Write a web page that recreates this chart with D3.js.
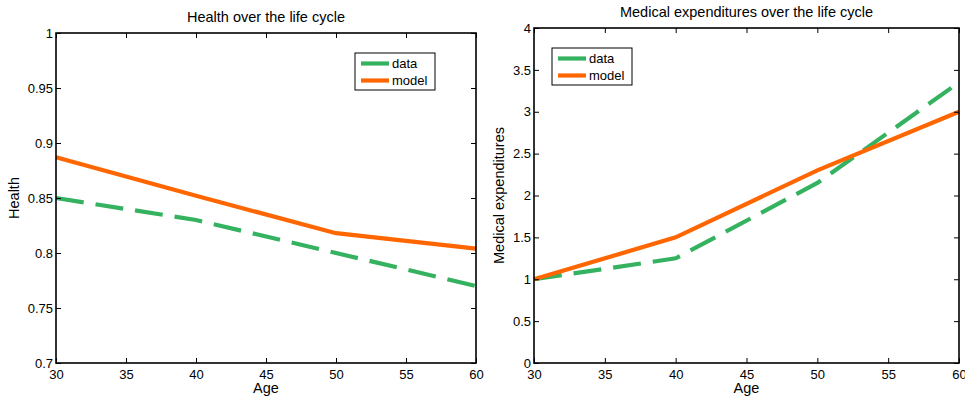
<!DOCTYPE html>
<html>
<head>
<meta charset="utf-8">
<script src="https://cdn.jsdelivr.net/npm/d3@7"></script>
<style>
  body { margin: 0; background: #fff; }
  svg { display: block; font-family: "Liberation Sans", Arial, sans-serif; }
</style>
</head>
<body>
<svg id="chart" width="965" height="400"></svg>
<script>
// ages on the x axis (both panels)
const ages = [30, 40, 50, 60];
const ageTicks = [30, 35, 40, 45, 50, 55, 60];

// Health panel
const healthData = [0.85, 0.83, 0.80, 0.77];
const healthModel = [0.887, 0.852, 0.818, 0.804];
const healthTicks = [0.7, 0.75, 0.8, 0.85, 0.9, 0.95, 1];

// Medical expenditures panel
const medData = [1.0, 1.25, 2.15, 3.35];
const medModel = [1.0, 1.5, 2.3, 3.0];
const medTicks = [0, 0.5, 1, 1.5, 2, 2.5, 3, 3.5, 4];

const seriesNames = ['data', 'model'];
const green = '#34b25f';
const orange = '#ff6600';

const svg = d3.select('#chart');

function drawPanel(p) {
    const x = d3.scaleLinear().domain([30, 60]).range([p.left, p.right]);
    const y = d3.scaleLinear().domain(p.yDomain).range([p.bottom, p.top]);
    const fmt = d => String(+d.toFixed(2));

    const g = svg.append('g');

    // lines first, box and ticks on top
    const line = d3.line().x((d, i) => x(ages[i])).y(d => y(d));

    g.append('path')
        .datum(p.data)
        .attr('fill', 'none')
        .attr('stroke', green)
        .attr('stroke-width', 4.2)
        .attr('stroke-dasharray', '28,12')
        .attr('d', line);

    g.append('path')
        .datum(p.model)
        .attr('fill', 'none')
        .attr('stroke', orange)
        .attr('stroke-width', 4.2)
        .attr('d', line);

    // axes with inward ticks on all four sides
    const bottom = g.append('g')
        .attr('transform', `translate(0,${p.bottom})`)
        .call(d3.axisBottom(x).tickValues(ageTicks).tickSizeInner(-5).tickSizeOuter(0).tickPadding(7));
    const top = g.append('g')
        .attr('transform', `translate(0,${p.top})`)
        .call(d3.axisTop(x).tickValues(ageTicks).tickSizeInner(-5).tickSizeOuter(0).tickFormat(''));
    const left = g.append('g')
        .attr('transform', `translate(${p.left},0)`)
        .call(d3.axisLeft(y).tickValues(p.ticks).tickFormat(fmt).tickSizeInner(-5).tickSizeOuter(0).tickPadding(3));
    const right = g.append('g')
        .attr('transform', `translate(${p.right},0)`)
        .call(d3.axisRight(y).tickValues(p.ticks).tickSizeInner(-5).tickSizeOuter(0).tickFormat(''));

    [bottom, top, left, right].forEach(a => {
        a.select('.domain').remove();
        a.selectAll('line').attr('stroke', '#000').attr('stroke-width', 1);
        a.selectAll('text')
            .attr('fill', '#000')
            .style('font-size', '13px')
            .style('font-family', '"Liberation Sans", Arial, sans-serif');
    });
    left.selectAll('text').attr('x', -3);

    g.append('rect')
        .attr('x', p.left)
        .attr('y', p.top)
        .attr('width', p.right - p.left)
        .attr('height', p.bottom - p.top)
        .attr('fill', 'none')
        .attr('stroke', '#000')
        .attr('stroke-width', 1.6);

    // titles
    g.append('text')
        .attr('x', (p.left + p.right) / 2)
        .attr('y', p.top - 11)
        .attr('text-anchor', 'middle')
        .style('font-size', '14.5px')
        .text(p.title);

    g.append('text')
        .attr('x', (p.left + p.right) / 2)
        .attr('y', p.bottom + 30)
        .attr('text-anchor', 'middle')
        .style('font-size', '14.5px')
        .text('Age');

    g.append('text')
        .attr('transform', `translate(${p.ylabelX},${(p.top + p.bottom) / 2}) rotate(-90)`)
        .attr('text-anchor', 'middle')
        .style('font-size', '14.5px')
        .text(p.ylabel);

    // legend
    const lg = g.append('g').attr('transform', `translate(${p.legendX},${p.legendY})`);
    lg.append('rect')
        .attr('width', 80)
        .attr('height', 37)
        .attr('fill', '#fff')
        .attr('stroke', '#000')
        .attr('stroke-width', 1);
    seriesNames.forEach((name, i) => {
        lg.append('line')
            .attr('x1', 6).attr('x2', 34)
            .attr('y1', 10.5 + i * 17).attr('y2', 10.5 + i * 17)
            .attr('stroke', i === 0 ? green : orange)
            .attr('stroke-width', 4.2);
        lg.append('text')
            .attr('x', 37)
            .attr('y', 10.5 + i * 17)
            .attr('dy', '0.35em')
            .style('font-size', '13px')
            .text(name);
    });
}

drawPanel({
    left: 56, right: 476, top: 33, bottom: 363,
    yDomain: [0.7, 1], ticks: healthTicks,
    data: healthData, model: healthModel,
    title: 'Health over the life cycle', ylabel: 'Health', ylabelX: 19,
    legendX: 355, legendY: 53
});

drawPanel({
    left: 534, right: 959, top: 28, bottom: 363,
    yDomain: [0, 4], ticks: medTicks,
    data: medData, model: medModel,
    title: 'Medical expenditures over the life cycle', ylabel: 'Medical expenditures', ylabelX: 504,
    legendX: 552, legendY: 48
});
</script>
</body>
</html>
